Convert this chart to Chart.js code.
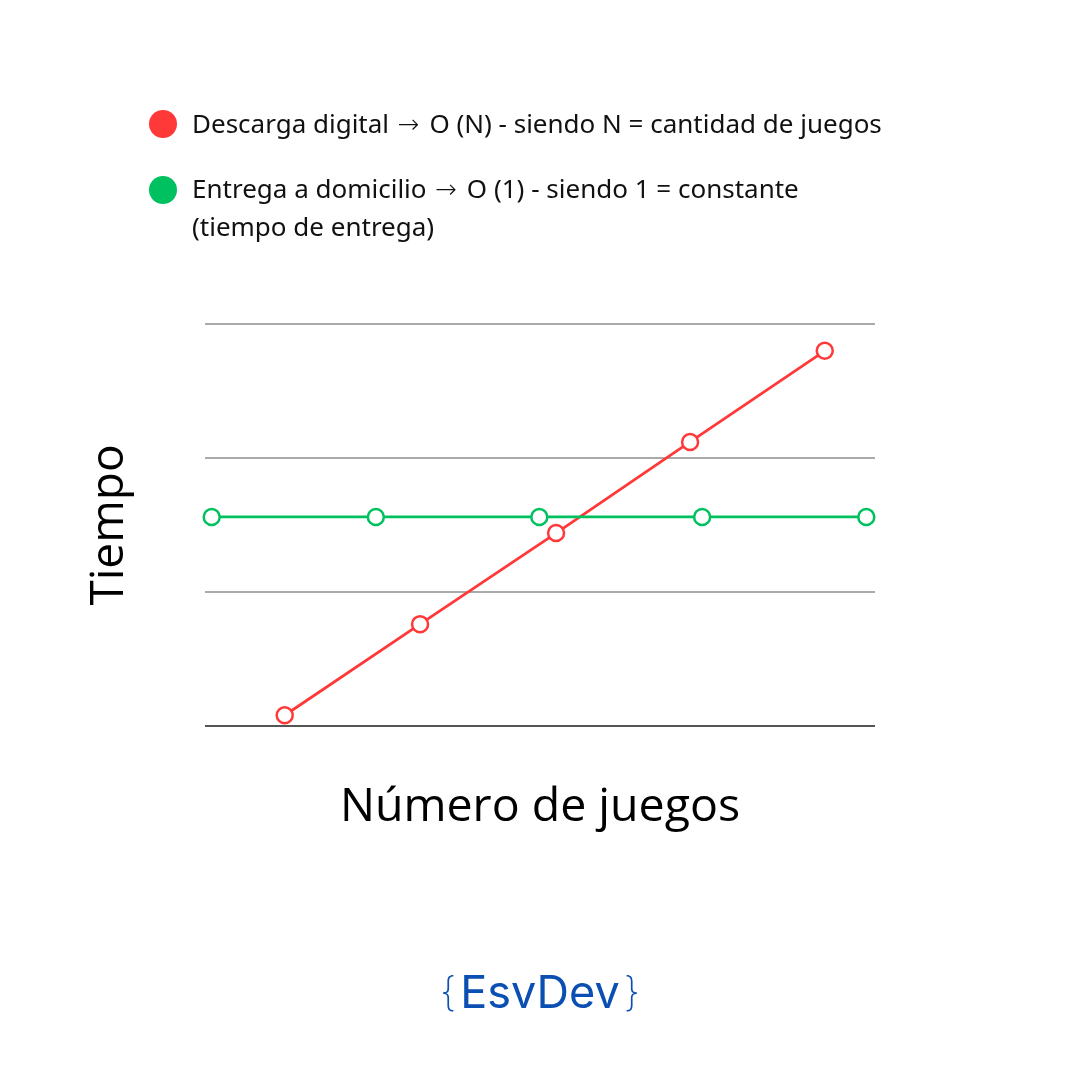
<!DOCTYPE html>
<html>
<head>
<meta charset="utf-8">
<script src="https://cdn.jsdelivr.net/npm/chart.js@4.4.1/dist/chart.umd.min.js"></script>
<style>
    html, body { margin: 0; padding: 0; background: #fff; }
    #page { position: relative; width: 1080px; height: 1080px; overflow: hidden; font-family: "Open Sans", sans-serif; }
    #grafica { position: absolute; left: 0; top: 0; }
    .dot { position: absolute; width: 28px; height: 28px; border-radius: 50%; }
    .item { position: absolute; left: 192px; font-family: "Noto Sans", "Open Sans", sans-serif; font-size: 26px; line-height: 37px; color: #111; white-space: nowrap; }
    .flecha { font-family: "DejaVu Sans", sans-serif; font-size: 26px; font-weight: 300; margin: 0 3px 0 2px; }
    #marca { position: absolute; left: 0; top: 969px; width: 1080px; text-align: center; font-family: Inter, sans-serif; font-size: 45px; line-height: 1; color: #0b4fb3; }
    #marca .llave { font-weight: 200; font-size: 40px; position: relative; top: -2px; margin: 0 4px; }
</style>
</head>
<body>
<div id="page">
    <canvas id="grafica" width="1080" height="1080"></canvas>
    <div class="dot" id="dot_rojo" style="left:149px; top:110px;"></div>
    <div class="item" id="item_rojo" style="top:105px;"></div>
    <div class="dot" id="dot_verde" style="left:149px; top:176px;"></div>
    <div class="item" id="item_verde" style="top:170px;"></div>
    <div id="marca"><span class="llave">{</span>EsvDev<span class="llave">}</span></div>
</div>
<script>
// datos (eje x sin unidades 0-100, eje y en lineas de cuadricula)
const leyendas = [
    ["Descarga digital \u2192 O (N) - siendo N = cantidad de juegos"],
    ["Entrega a domicilio \u2192 O (1) - siendo 1 = constante", "(tiempo de entrega)"]
];
const colores = ["#ff3838", "#00c15f"];

const xDescarga = [11.9, 32.1, 52.4, 72.4, 92.5];
const yDescarga = [0.08, 0.76, 1.44, 2.12, 2.80];

const xEntrega = [1.0, 25.5, 49.9, 74.2, 98.7];
const yEntrega = [1.56, 1.56, 1.56, 1.56, 1.56];

const ticksY = [0, 1, 2, 3];
const tituloX = "Número de juegos";
const tituloY = "Tiempo";

function textoLeyenda(lineas) {
    return lineas.map(l => l.replace("\u2192", '<span class="flecha">\u2192</span>')).join("<br>");
}

document.getElementById("dot_rojo").style.background = colores[0];
document.getElementById("dot_verde").style.background = colores[1];
document.getElementById("item_rojo").innerHTML = textoLeyenda(leyendas[0]);
document.getElementById("item_verde").innerHTML = textoLeyenda(leyendas[1]);

function puntos(xs, ys) {
    return xs.map((x, i) => ({ x: x, y: ys[i] }));
}

function serie(label, xs, ys, color) {
    return {
        label: label,
        data: puntos(xs, ys),
        borderColor: color,
        backgroundColor: "#ffffff",
        borderWidth: 2.8,
        pointRadius: 8,
        pointBorderWidth: 2.5,
        pointBackgroundColor: "#ffffff",
        pointBorderColor: color,
        tension: 0,
        clip: false
    };
}

let chart = new Chart(document.getElementById("grafica"), {
    type: "line",
    data: {
        datasets: [
            serie(leyendas[1].join(" "), xEntrega, yEntrega, colores[1]),
            serie(leyendas[0][0], xDescarga, yDescarga, colores[0])
        ]
    },
    options: {
        responsive: false,
        animation: false,
        layout: {
            padding: { left: 82, right: 205, top: 324, bottom: 244 }
        },
        plugins: {
            legend: { display: false },
            tooltip: { enabled: false }
        },
        scales: {
            x: {
                type: "linear",
                min: 0,
                max: 100,
                afterFit: (s) => { s.height = 110; },
                grid: { display: false },
                border: { display: false },
                ticks: { display: false },
                title: {
                    display: true,
                    text: tituloX,
                    color: "#000",
                    padding: 0,
                    font: { family: "Open Sans", size: 46.5, lineHeight: 1.2 }
                }
            },
            y: {
                min: ticksY[0],
                max: ticksY[ticksY.length - 1],
                afterFit: (s) => { s.width = 123; },
                afterBuildTicks: (s) => { s.ticks = ticksY.map(v => ({ value: v })); },
                grid: {
                    color: (c) => c.tick && c.tick.value === 0 ? "#555555" : "#aaaaaa",
                    lineWidth: 2,
                    drawTicks: false
                },
                border: { display: false },
                ticks: { display: false },
                title: {
                    display: true,
                    text: tituloY,
                    color: "#000",
                    padding: 0,
                    font: { family: "Open Sans", size: 46, lineHeight: 1.2 }
                }
            }
        }
    }
});
</script>
</body>
</html>
